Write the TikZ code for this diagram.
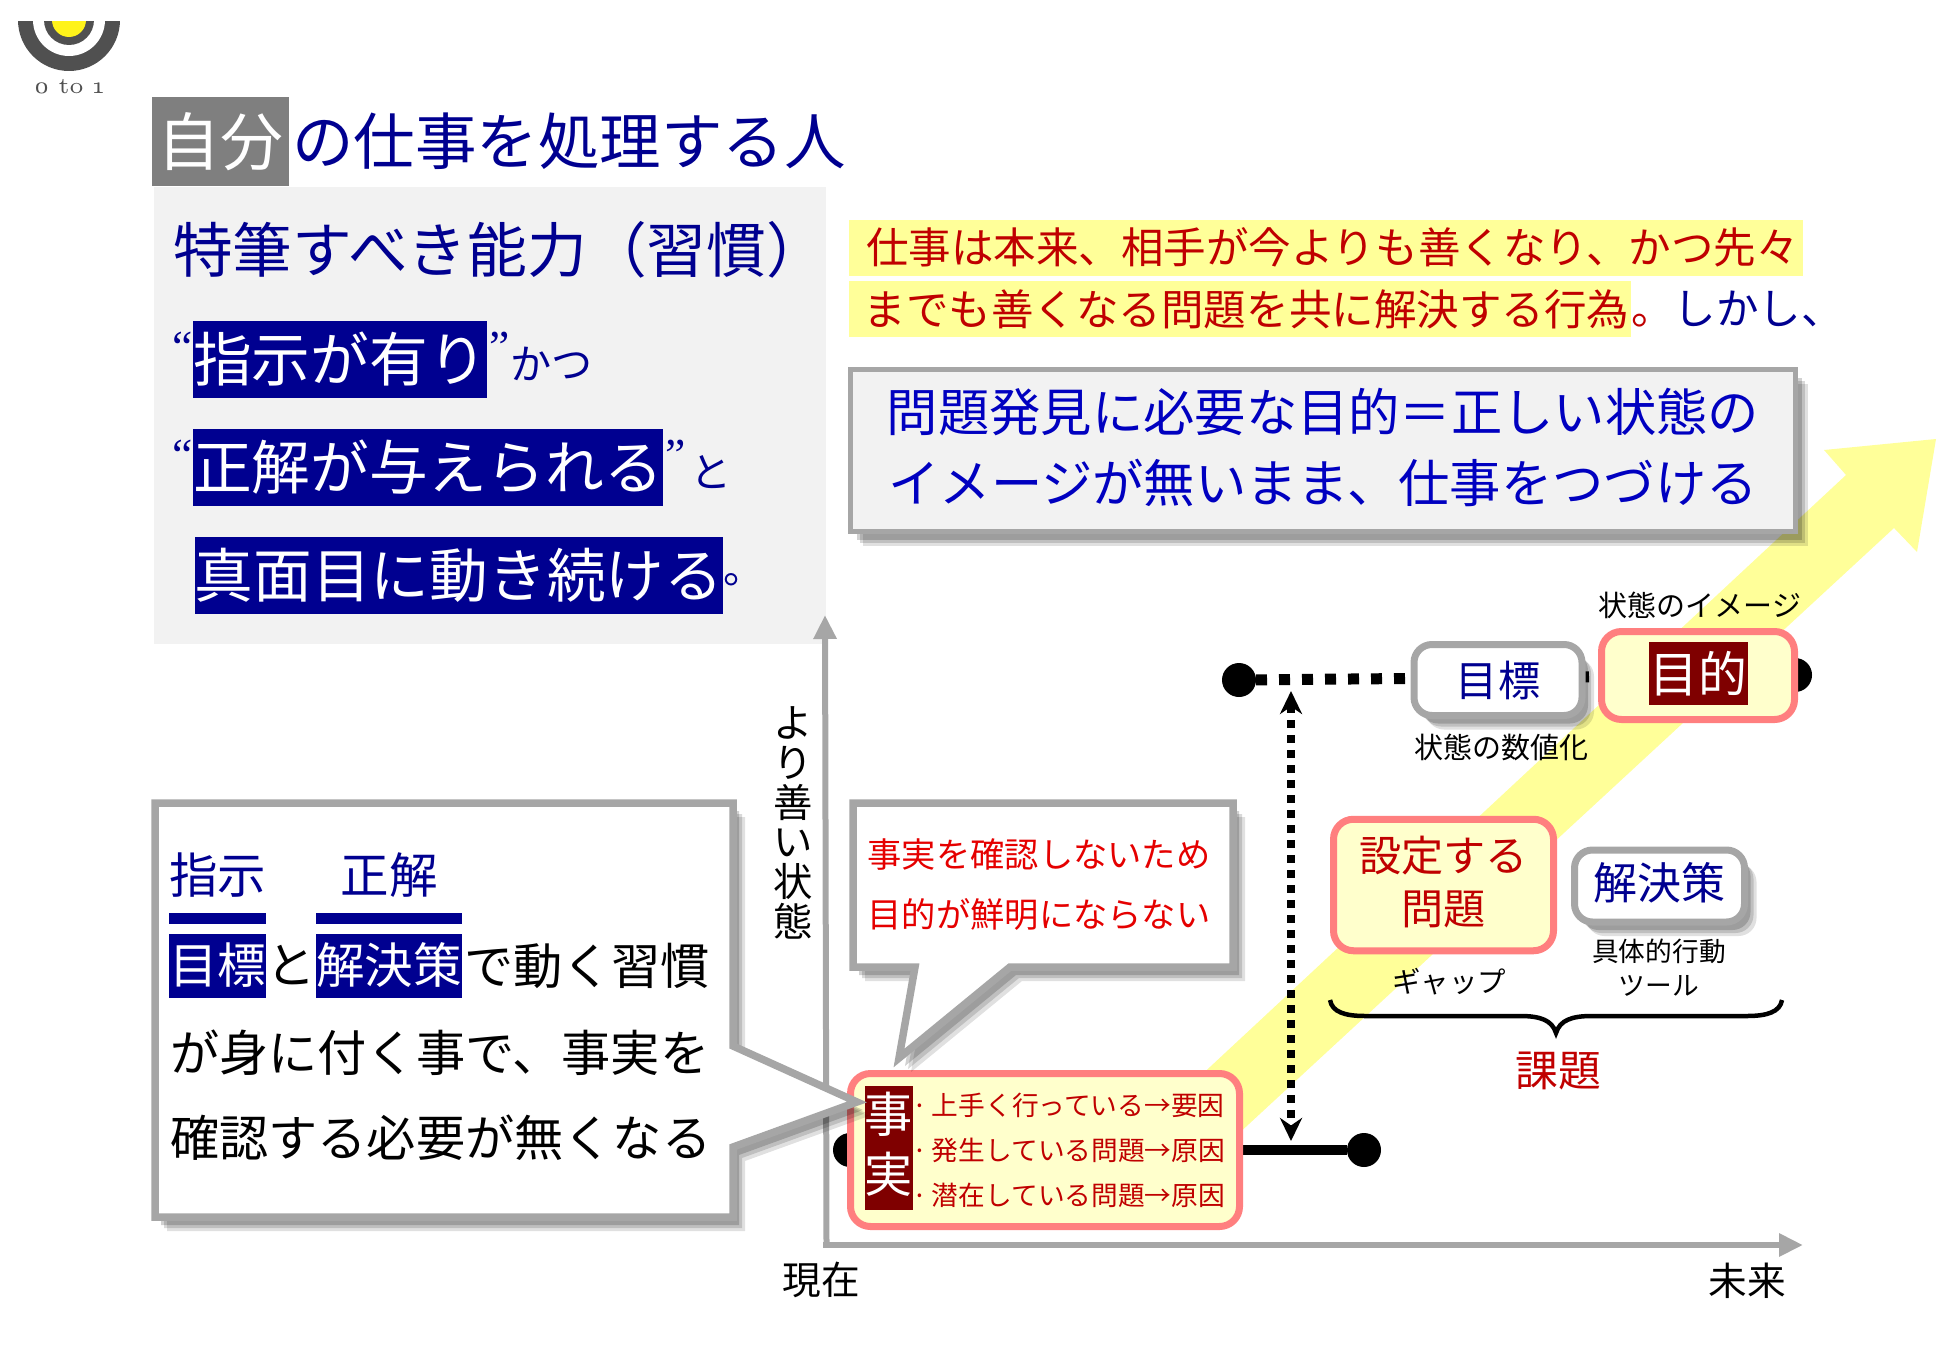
\documentclass[tikz,border=0pt]{standalone}
\usepackage{fontspec}
\setmainfont{Noto Sans CJK JP}
\newfontfamily\latinquote{Liberation Serif}
\newfontfamily\logofont[Numbers=OldStyle]{Latin Modern Roman}
\usepackage{xcolor}
\usetikzlibrary{arrows.meta,positioning,shadows}
\definecolor{navyblue}{RGB}{0,0,144}
\definecolor{brightblue}{RGB}{0,0,192}
\definecolor{darkred}{RGB}{192,0,0}
\definecolor{maroonbg}{RGB}{127,0,0}
\definecolor{softpink}{RGB}{255,127,127}
\definecolor{softyellow}{RGB}{255,255,204}
\definecolor{bandyellow}{RGB}{255,255,153}
\definecolor{linegray}{RGB}{166,166,166}
\definecolor{panelgray}{RGB}{242,242,242}
\definecolor{titlegray}{RGB}{127,127,127}
\definecolor{logogray}{RGB}{80,80,80}
\newcommand{\fsz}[2]{\fontsize{#1}{#2}\selectfont}

\begin{document}
\begin{tikzpicture}[x=0.1mm,y=-0.1mm,>=Stealth,inner sep=0pt,outer sep=0pt]
  \tikzstyle{softshadow}=[drop shadow={shadow xshift=1.2mm,shadow yshift=-1.4mm,opacity=0.12,fill=black},
    drop shadow={shadow xshift=0.9mm,shadow yshift=-1.1mm,opacity=0.15,fill=black},
    drop shadow={shadow xshift=0.6mm,shadow yshift=-0.8mm,opacity=0.18,fill=black}]
  \tikzstyle{navybox}=[fill=navyblue,text=white,font=\fsz{16.7}{20}]
  \tikzstyle{navytext}=[text=navyblue,font=\fsz{16.7}{20}]
  \tikzstyle{quotemark}=[text=navyblue,font=\latinquote\fsz{13}{15}]
  \tikzstyle{smallblue}=[text=navyblue,font=\fsz{11.7}{14}]
  \tikzstyle{yellowbar}=[fill=bandyellow,text=darkred,font=\fsz{12.1}{15},minimum height=5.6mm]
  \tikzstyle{grayround}=[draw=linegray,line width=0.7mm,fill=white,rounded corners=1.8mm,softshadow]
  \tikzstyle{pinkround}=[draw=softpink,line width=0.7mm,fill=softyellow,rounded corners=2mm]
  \tikzstyle{maroonbox}=[fill=maroonbg,text=white]
  \tikzstyle{blackdot}=[circle,fill=black,minimum size=3.4mm]
  \tikzstyle{note}=[text=black,font=\fsz{8.25}{9.8}]
  \tikzstyle{calloutline}=[draw=linegray,line width=0.75mm,fill=white,softshadow]
  \tikzstyle{blacktext}=[text=black,font=\fsz{14}{17}]
  \tikzstyle{factline}=[text=darkred,font=\fsz{7.6}{9},anchor=west]
  \tikzstyle{axisline}=[draw=linegray,line width=0.6mm,-{Triangle[length=2.4mm,width=2.2mm]}]

  \useasboundingbox (0,0) rectangle (1950,1350);

  \begin{scope}
    \clip (0,22) rectangle (200,80);
    \fill[logogray] (69,20) circle (51);
    \fill[white] (69,20) circle (36);
    \fill[logogray] (69,20) circle (25);
    \fill[yellow!90!white] (69,20) circle (17);
  \end{scope}
  \node[text=logogray,font=\logofont\fsz{6.5}{8}] (logotext) at (69,87) {0 to 1};

  \node[fill=titlegray,text=white,font=\fsz{17.9}{22},minimum width=13.7mm,minimum height=8.9mm] (jibun) at (220.5,141.5) {自分};
  \node[right=0.3mm of jibun,text=navyblue,font=\fsz{17.5}{22}] (titlerest) {の仕事を処理する人};

  \node[fill=panelgray,minimum width=67.2mm,minimum height=45.7mm] (panel) at (490,415.5) {};
  \node[anchor=west,text=navyblue,font=\fsz{17}{20}] (ability) at (173,250) {特筆すべき能力（習慣）};
  \node[navybox,minimum width=29.2mm,minimum height=7.7mm] (shiji) at (340,359.5) {指示が有り};
  \node[quotemark,left=0pt of shiji,yshift=1.2mm] (shijiopen) {“};
  \node[quotemark,right=0.3mm of shiji,yshift=1.2mm] (shijiclose) {”};
  \node[smallblue,anchor=west] (katsu) at (510,364) {かつ};
  \node[navybox,minimum width=46.9mm,minimum height=7.7mm] (seikai) at (428,467) {正解が与えられる};
  \node[quotemark,left=0pt of seikai,yshift=1.2mm] (seikaiopen) {“};
  \node[quotemark,right=0.3mm of seikai,yshift=1.2mm] (seikaiclose) {”};
  \node[smallblue,anchor=west] (to) at (690,472) {と};
  \node[navybox,minimum width=52.8mm,minimum height=7.7mm] (majime) at (459,575) {真面目に動き続ける};
  \node[smallblue,right=0pt of majime,yshift=-0.5mm] (maru) {。};

  \fill[bandyellow] (1153,1120) -- (1846,475) -- (1824,450) -- (1936,439) -- (1917,552) -- (1894,528) -- (1210,1160) -- cycle;

  \node[yellowbar,minimum width=95.4mm] (line1) at (1326,247.5) {\hspace{1.3mm}仕事は本来、相手が今よりも善くなり、かつ先々};
  \node[yellowbar,minimum width=78.2mm] (line2) at (1240,309) {\hspace{1.3mm}までも善くなる問題を共に解決する行為};
  \node[right=0pt of line2,font=\fsz{12.1}{15},text=navyblue] (shikashi) {\textcolor{darkred}{。}しかし、};

  \node[draw=linegray,line width=0.5mm,fill=panelgray,softshadow,minimum width=94.5mm,minimum height=16.2mm] (mondai) at (1323,450.5) {};
  \node[text=brightblue,font=\fsz{14.6}{20.2},align=center] (mondaitext) at (1323,447) {問題発見に必要な目的＝正しい状態の\\イメージが無いまま、仕事をつづける};

  \node (origin) at (825,1245) {};
  \coordinate (ytip) at (825,615);
  \coordinate (xtip) at (1803,1245);
  \draw[axisline] (826.5,1245) -- (ytip);
  \draw[axisline] (823,1245) -- (xtip);
  \node[font=\fsz{11}{13}] (genzai) at (821,1280) {現在};
  \node[font=\fsz{11}{13}] (mirai) at (1747,1281) {未来};
  \node[font=\fsz{11.2}{11.3},align=center] (yaxislabel) at (793,823) {よ\\り\\善\\い\\状\\態};

  \node[blackdot] (dotpresentL) at (850,1150) {};
  \node[blackdot] (dotpresentR) at (1364,1150) {};
  \node[blackdot] (dotgoalL) at (1239,680) {};
  \node[blackdot] (dotgoalR) at (1795,675) {};
  \draw[line width=1.05mm] (dotpresentL) -- (dotpresentR);
  \draw[line width=1.1mm,dash pattern=on 1.1mm off 1.2mm] (dotgoalL) -- (dotgoalR);
  \coordinate (gaptop) at (1291,691);
  \coordinate (gapbottom) at (1291,1141);
  \draw[<->,>={Stealth[length=2.3mm,width=2.2mm]},line width=0.8mm,dash pattern=on 0.8mm off 0.7mm] (gaptop) -- (gapbottom);

  \node[grayround,minimum width=16.8mm,minimum height=7.1mm,text=navyblue,font=\fsz{12}{14}] (mokuhyo) at (1498,680) {目標};
  \node[pinkround,minimum width=19.3mm,minimum height=8.8mm] (mokuteki) at (1698,675.5) {};
  \node[maroonbox,minimum width=9.9mm,minimum height=6.3mm,font=\fsz{13.9}{16}] (mokutekilabel) at (1698.5,673.5) {目的};
  \node[note] (image) at (1700,605) {状態のイメージ};
  \node[note] (suchi) at (1501,747) {状態の数値化};

  \node[pinkround,minimum width=22mm,minimum height=13.15mm] (settei) at (1443.5,885) {};
  \node[text=darkred,font=\fsz{12}{15},align=center] (setteitext) at (1443.5,882) {設定する\\問題};
  \node[grayround,minimum width=17mm,minimum height=7.2mm] (kaiketsu) at (1659.5,886) {};
  \node[text=navyblue,font=\fsz{12.5}{15}] (kaiketsutext) at (1659.5,883) {解決策};
  \node[text=black,font=\fsz{8.1}{10}] (gap) at (1449,982) {ギャップ};
  \node[text=black,font=\fsz{7.6}{9.6},align=center] (gutai) at (1659,968) {具体的行動\\ツール};
  \draw[line width=0.45mm] (1330,1000) .. controls (1332,1012) and (1345,1016) .. (1365,1016) -- (1520,1016)
    .. controls (1540,1016) and (1552,1020) .. (1556,1033) .. controls (1560,1020) and (1572,1016) .. (1592,1016)
    -- (1747,1016) .. controls (1767,1016) and (1780,1012) .. (1782,1000);
  \node[text=darkred,font=\fsz{12.2}{15}] (kadai) at (1558,1071) {課題};

  \node[pinkround,minimum width=38.9mm,minimum height=15.3mm] (fact) at (1045,1150) {};
  \node[maroonbox,minimum width=4.8mm,minimum height=12.45mm] (factlabel) at (889,1148) {};
  \node[text=white,font=\fsz{13.7}{17},align=center] (factlabeltext) at (889,1144) {事\\実};
  \node[factline] (fact1) at (912,1105.5) {·\hspace{0.5mm}上手く行っている→要因};
  \node[factline] (fact2) at (912,1150) {·\hspace{0.5mm}発生している問題→原因};
  \node[factline] (fact3) at (912,1195) {·\hspace{0.5mm}潜在している問題→原因};

  \draw[calloutline] (155,803) -- (733,803) -- (733,1046) -- (857,1102) -- (733,1147) -- (733,1217) -- (155,1217) -- cycle;
  \draw[calloutline] (853,803) -- (1233,803) -- (1233,967) -- (1010,967) -- (899,1058) -- (915,967) -- (853,967) -- cycle;

  \node[text=red!90!black,font=\fsz{9.75}{17},align=center] (callouttext) at (1039,884.5) {事実を確認しないため\\目的が鮮明にならない};

  \node[smallblue,font=\fsz{13.8}{17}] (shijilabel) at (217.5,875) {指示};
  \node[smallblue,font=\fsz{13.8}{17}] (seikailabel) at (389,875) {正解};
  \node[fill=navyblue,minimum width=9.7mm,minimum height=1.1mm] (shijibar) at (217.5,918.5) {};
  \node[fill=navyblue,minimum width=14.6mm,minimum height=1.1mm] (seikaibar) at (389,918.5) {};
  \node[navybox,minimum width=9.7mm,minimum height=6.4mm,font=\fsz{13.8}{17}] (mokuhyobox) at (217.5,965.5) {目標};
  \node[blacktext] (towa) at (291,965.5) {と};
  \node[navybox,minimum width=14.6mm,minimum height=6.4mm,font=\fsz{13.8}{17}] (kaiketsubox) at (389,965.5) {解決策};
  \node[blacktext,right=0.2mm of kaiketsubox] (habit) {で動く習慣};
  \node[blacktext,anchor=west] (habit2) at (170,1053) {が身に付く事で、事実を};
  \node[blacktext,anchor=west] (habit3) at (170,1138) {確認する必要が無くなる};
\end{tikzpicture}
\end{document}
